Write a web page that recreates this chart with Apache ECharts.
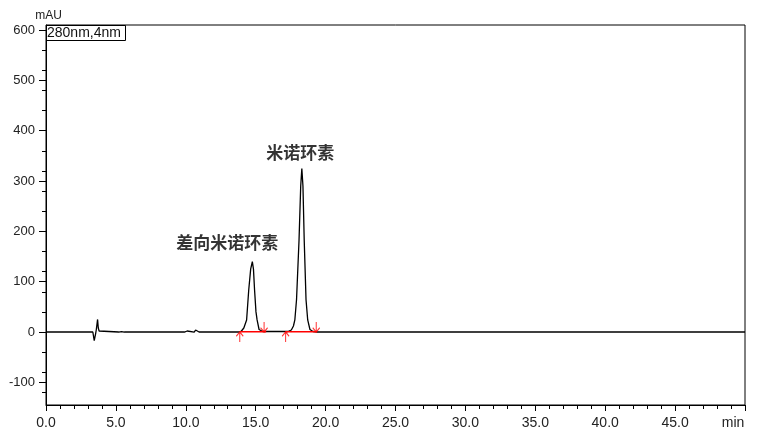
<!DOCTYPE html>
<html>
<head>
<meta charset="utf-8">
<script src="https://cdn.jsdelivr.net/npm/echarts@6/dist/echarts.min.js"></script>
<style>html,body{margin:0;padding:0;background:#fff}#c{width:766px;height:444px}</style>
</head>
<body>
<div id="c"></div>
<script>
// Chromatogram trace (time in min, absorbance in mAU)
const times = [0, 3.35, 3.45, 3.55, 3.6, 3.69, 3.74, 3.8, 3.9, 5.2, 5.3, 5.4, 5.5, 5.6, 6.5, 6.6, 6.75, 8.95, 9.05, 9.15, 9.9, 10.0, 10.1, 10.2, 10.6, 10.7, 10.82, 10.95,
  13.8, 13.98, 14.15, 14.35, 14.5, 14.64, 14.76, 14.84, 14.92, 15.02, 15.1, 15.24, 15.5,
  17.3, 17.55, 17.7, 17.8, 17.92, 18.1, 18.22, 18.3, 18.38, 18.47, 18.6, 18.72, 18.88, 19.1, 19.4,
  23.2, 23.3, 23.45, 50];
const absorb = [0, 0, -17, -3, 5, 25, 8, 2, 0, 0, 3.5, 1, 2.5, 0, 0, 3, 0, 0, 3, 0, 0, 3, 2, 0, 0, 4, 2.5, 0,
  0, 2, 8, 24, 83, 125, 140, 125, 83, 40, 24, 5, 1,
  1, 4, 12, 24, 64, 183, 290, 325, 290, 183, 64, 24, 5, 1, 0,
  0, 2.5, 0, 0];

const xTicks = [0, 5, 10, 15, 20, 25, 30, 35, 40, 45, 50];
const yTicks = [-100, 0, 100, 200, 300, 400, 500, 600];

const peakNames = ['差向米诺环素', '米诺环素'];
const peakTimes = [14.76, 18.3];
const peakHeights = [140, 325];

const integStart = [13.86, 17.14];
const integEnd = [15.75, 19.38];
const arrowEnd = [15.6, 19.33];
const integLevel = [0.6, 0.6];

const legendText = '280nm,4nm';

const chart = echarts.init(document.getElementById('c'), null, {renderer: 'canvas'});

const trace = times.map((t, i) => [t, absorb[i]]);
const redSeries = integStart.map((s, i) => ({
  type: 'line', data: [[s, integLevel[i]], [integEnd[i], integLevel[i]]],
  showSymbol: false, silent: true, z: 10,
  lineStyle: {color: '#ff0000', width: 1.5}
}));

const upPath = 'path://M5 0 L5 14 M0 6 L5 0 L10 6';
const downPath = 'path://M5 0 L5 14 M0 8 L5 14 L10 8';

const labelOffsets = [[-25, -19], [-1.5, -15.5]];
const font = 'Liberation Sans, Arial, sans-serif';

chart.setOption({
  animation: false,
  backgroundColor: '#fff',
  title: {
    text: legendText, left: 46, top: 25,
    borderWidth: 1, borderColor: '#000',
    padding: [1, 5, 1, 1],
    textStyle: {fontFamily: font, fontSize: 14, fontWeight: 'normal', color: '#111', lineHeight: 14}
  },
  grid: {left: 46, right: 21, top: 25, bottom: 39, show: true, borderColor: '#000', borderWidth: 1, backgroundColor: 'transparent'},
  xAxis: {
    type: 'value', min: 0, max: 50, interval: 5,
    axisLine: {show: true, onZero: false, lineStyle: {color: '#000', width: 1}},
    axisTick: {show: true, length: 6, lineStyle: {color: '#000'}, customValues: xTicks},
    minorTick: {show: true, splitNumber: 5, length: 4, lineStyle: {color: '#000'}},
    splitLine: {show: false},
    axisLabel: {
      customValues: xTicks,
      margin: 11, fontFamily: font, fontSize: 14, color: '#222',
      formatter: v => v === 50 ? '{m|min}' : v.toFixed(1),
      rich: {m: {fontFamily: font, fontSize: 14, color: '#222', padding: [0, 24, 0, 0]}}
    }
  },
  yAxis: {
    type: 'value', min: -145, max: 610,
    name: 'mAU', nameLocation: 'end', nameGap: 3,
    nameTextStyle: {fontFamily: font, fontSize: 12, color: '#222', align: 'center', padding: [0, 0, 0, 5]},
    axisLine: {show: true, onZero: false, lineStyle: {color: '#000', width: 1}},
    axisTick: {show: true, length: 7, lineStyle: {color: '#000'}, customValues: yTicks},
    minorTick: {show: true, splitNumber: 5, length: 4, lineStyle: {color: '#000'}},
    splitLine: {show: false},
    axisLabel: {customValues: yTicks, margin: 11, fontFamily: font, fontSize: 13, color: '#222'}
  },
  series: [
    {
      type: 'line', data: trace, showSymbol: false, silent: true, z: 3,
      lineStyle: {color: '#000', width: 1.3}
    },
    ...redSeries,
    {
      type: 'scatter', silent: true, z: 11,
      data: integStart.map(s => [s, 0]),
      symbol: upPath, symbolSize: [7, 10], symbolOffset: [0, 5],
      itemStyle: {color: 'rgba(0,0,0,0)', borderColor: '#ff0000', borderWidth: 1.2}
    },
    {
      type: 'scatter', silent: true, z: 11,
      data: arrowEnd.map(s => [s, 0]),
      symbol: downPath, symbolSize: [7, 10], symbolOffset: [0, -5],
      itemStyle: {color: 'rgba(0,0,0,0)', borderColor: '#ff0000', borderWidth: 1.2}
    },
    {
      type: 'scatter', silent: true, z: 12,
      data: peakTimes.map((t, i) => ({
        value: [t, peakHeights[i]], name: peakNames[i],
        label: {offset: labelOffsets[i]}
      })),
      symbolSize: 1, itemStyle: {color: 'rgba(0,0,0,0)'},
      label: {
        show: true, position: 'inside', formatter: p => p.name,
        fontFamily: 'Noto Sans CJK SC, sans-serif', fontSize: 17, fontWeight: 'bold', color: '#000'
      }
    }
  ]
});
</script>
</body>
</html>
